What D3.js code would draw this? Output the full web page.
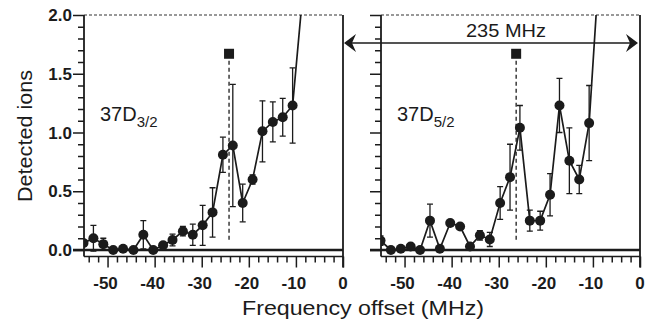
<!DOCTYPE html>
<html>
<head>
<meta charset="utf-8" />
<title>Detected ions vs frequency offset</title>
<style>
  body { margin: 0; background: #fff; }
  svg { font-family: "Liberation Sans", Arial, Helvetica, sans-serif; }
</style>
</head>
<body>
<script src="https://d3js.org/d3.v7.min.js"></script>
<script>
// left panel: 37D3/2
var freqA = [-55.1, -53.0, -50.9, -48.8, -46.7, -44.5, -42.4, -40.3, -38.2, -36.2, -34.0, -31.9,
             -29.8, -27.7, -25.5, -23.4, -21.3, -19.2, -17.1, -14.9, -12.8, -10.7, -8.6];
var ionsA = [0.06, 0.10, 0.05, 0.0, 0.01, 0.0, 0.13, 0.0, 0.04, 0.085, 0.16, 0.13,
             0.21, 0.32, 0.81, 0.89, 0.40, 0.60, 1.01, 1.09, 1.13, 1.23, 2.16];
var errA  = [0, 0.11, 0.05, 0, 0, 0, 0.12, 0, 0, 0.05, 0.04, 0.09,
             0.17, 0.21, 0.15, 0.52, 0.16, 0.04, 0.26, 0.17, 0.16, 0.32, 0];

// right panel: 37D5/2
var freqB = [-55.1, -52.9, -50.8, -48.7, -46.7, -44.6, -42.5, -40.3, -38.2, -36.1, -34.0, -31.9,
             -29.7, -27.6, -25.5, -23.4, -21.2, -19.1, -17.1, -15.0, -12.9, -10.8, -8.6];
var ionsB = [0.08, 0.0, 0.01, 0.03, 0.0, 0.25, 0.01, 0.23, 0.20, 0.03, 0.125, 0.09,
             0.40, 0.62, 1.04, 0.25, 0.25, 0.47, 1.23, 0.76, 0.60, 1.08, 2.45];
var errB  = [0.04, 0, 0, 0, 0, 0.14, 0, 0.02, 0, 0, 0.04, 0.06,
             0.14, 0.28, 0.19, 0.09, 0.08, 0.18, 0.23, 0.28, 0.12, 0.32, 0];

// theory markers (square + dashed line)
var markA = {f: -24.2, top: 1.67, bottom: 0.08};
var markB = {f: -26.3, top: 1.67, bottom: 0.07};

var xTicks = [-50, -40, -30, -20, -10, 0];
var yTicks = [0.0, 0.5, 1.0, 1.5, 2.0];

var width = 660, height = 327;
var ink = "#1b1b1b";

var svg = d3.select("body").append("svg")
    .attr("width", width)
    .attr("height", height);

var y = d3.scaleLinear().domain([0, 2]).range([250, 15]);
var frameBottom = y(0) + 6.5;

var panels = [
  {x: d3.scaleLinear().domain([-55, 0]).range([84, 343]), f: freqA, v: ionsA, e: errA, mark: markA, sub: "3/2", labels: true},
  {x: d3.scaleLinear().domain([-55, 0]).range([381, 640]), f: freqB, v: ionsB, e: errB, mark: markB, sub: "5/2", labels: false}
];

panels.forEach(function(p, i) {
  var x = p.x;
  var x0 = x.range()[0], x1 = x.range()[1];
  var g = svg.append("g");

  // top dashed border
  g.append("line")
    .attr("x1", x0).attr("x2", x1)
    .attr("y1", y(2)).attr("y2", y(2))
    .attr("stroke", "#333").attr("stroke-width", 1.2)
    .attr("stroke-dasharray", "3,2");

  // right border
  g.append("line")
    .attr("x1", x1).attr("x2", x1)
    .attr("y1", y(2)).attr("y2", frameBottom + 11)
    .attr("stroke", ink).attr("stroke-width", 1.8);

  // left axis
  var yAxis = d3.axisLeft(y)
    .tickValues(d3.range(0, 2.001, 0.1))
    .tickSize(0)
    .tickFormat("");
  var ya = g.append("g").attr("transform", "translate(" + x0 + ",0)").call(yAxis);
  ya.select(".domain").remove();
  ya.selectAll(".tick line")
    .attr("x2", function(d) { return Math.abs(d / 0.5 - Math.round(d / 0.5)) < 1e-6 ? -11 : -6; })
    .attr("stroke", ink).attr("stroke-width", 1.5);
  g.append("line")
    .attr("x1", x0).attr("x2", x0)
    .attr("y1", y(2)).attr("y2", frameBottom)
    .attr("stroke", ink).attr("stroke-width", 1.8);

  if (p.labels) {
    g.selectAll(".ylab").data(yTicks).enter().append("text")
      .attr("x", x0 - 12)
      .attr("y", function(d) { return y(d) + 6; })
      .attr("text-anchor", "end")
      .attr("font-size", 17).attr("font-weight", "bold")
      .attr("fill", ink)
      .text(function(d) { return d.toFixed(1); });
  }

  // bottom axis
  var xAxis = d3.axisBottom(x)
    .tickValues(d3.range(-54, 0.001, 2))
    .tickSize(0)
    .tickFormat("");
  var xa = g.append("g").attr("transform", "translate(0," + frameBottom + ")").call(xAxis);
  xa.select(".domain").remove();
  xa.selectAll(".tick line")
    .attr("y2", function(d) { return d % 10 === 0 ? 11 : 6; })
    .attr("stroke", ink).attr("stroke-width", 1.5);
  g.append("line")
    .attr("x1", x0).attr("x2", x1)
    .attr("y1", frameBottom).attr("y2", frameBottom)
    .attr("stroke", ink).attr("stroke-width", 1.5);

  g.selectAll(".xlab").data(xTicks).enter().append("text")
    .attr("x", function(d) { return x(d) - (d < 0 ? 2 : 0); })
    .attr("y", 289)
    .attr("text-anchor", "middle")
    .attr("font-size", 17).attr("font-weight", "bold")
    .attr("fill", ink)
    .text(function(d) { return d; });

  // zero line
  g.append("line")
    .attr("x1", x0 - 11).attr("x2", x1)
    .attr("y1", y(0)).attr("y2", y(0))
    .attr("stroke", ink).attr("stroke-width", 2.4);

  // clipped data region
  svg.append("clipPath").attr("id", "clip" + i)
    .append("rect")
    .attr("x", x0).attr("y", y(2))
    .attr("width", x1 - x0).attr("height", frameBottom - y(2));

  var data = p.f.map(function(f, k) { return {f: f, v: p.v[k], e: p.e[k]}; });
  var dg = g.append("g").attr("clip-path", "url(#clip" + i + ")");

  // theory marker dashed line
  dg.append("line")
    .attr("x1", x(p.mark.f)).attr("x2", x(p.mark.f))
    .attr("y1", y(p.mark.top)).attr("y2", y(p.mark.bottom))
    .attr("stroke", ink).attr("stroke-width", 1.3)
    .attr("stroke-dasharray", "4,3");

  // error bars
  var eb = dg.selectAll(".err").data(data.filter(function(d) { return d.e > 0; }))
    .enter().append("g");
  eb.append("line")
    .attr("x1", function(d) { return x(d.f); }).attr("x2", function(d) { return x(d.f); })
    .attr("y1", function(d) { return y(d.v - d.e); }).attr("y2", function(d) { return y(d.v + d.e); })
    .attr("stroke", ink).attr("stroke-width", 1.3);
  [-1, 1].forEach(function(s) {
    eb.append("line")
      .attr("x1", function(d) { return x(d.f) - 3; }).attr("x2", function(d) { return x(d.f) + 3; })
      .attr("y1", function(d) { return y(d.v + s * d.e); }).attr("y2", function(d) { return y(d.v + s * d.e); })
      .attr("stroke", ink).attr("stroke-width", 1.3);
  });

  // connecting line
  dg.append("path").datum(data)
    .attr("fill", "none").attr("stroke", ink).attr("stroke-width", 1.7)
    .attr("d", d3.line().x(function(d) { return x(d.f); }).y(function(d) { return y(d.v); }));

  dg.selectAll(".pt").data(data).enter().append("circle")
    .attr("cx", function(d) { return x(d.f); })
    .attr("cy", function(d) { return y(d.v); })
    .attr("r", 5)
    .attr("fill", ink);

  // square marker
  g.append("rect")
    .attr("x", x(p.mark.f) - 5).attr("y", y(p.mark.top) - 5)
    .attr("width", 10).attr("height", 10)
    .attr("fill", ink);

  // state label
  var t = g.append("text")
    .attr("x", x0 + 16).attr("y", 121)
    .attr("font-size", 20).attr("fill", ink);
  t.append("tspan").text("37D");
  t.append("tspan").attr("dy", 6).attr("font-size", 15).text(p.sub);
});

// 235 MHz span arrow
var ax0 = panels[0].x(0) + 1, ax1 = panels[1].x(0) - 2, ay = 43;
svg.append("line")
  .attr("x1", ax0 + 6).attr("x2", ax1 - 6)
  .attr("y1", ay).attr("y2", ay)
  .attr("stroke", ink).attr("stroke-width", 1.5);
svg.append("path")
  .attr("d", "M" + ax0 + "," + ay + " L" + (ax0 + 12) + "," + (ay - 9) + " L" + (ax0 + 8) + "," + ay +
             " L" + (ax0 + 12) + "," + (ay + 9) + " Z")
  .attr("fill", ink);
svg.append("path")
  .attr("d", "M" + ax1 + "," + ay + " L" + (ax1 - 12) + "," + (ay - 9) + " L" + (ax1 - 8) + "," + ay +
             " L" + (ax1 - 12) + "," + (ay + 9) + " Z")
  .attr("fill", ink);
svg.append("text")
  .attr("x", 506).attr("y", 37)
  .attr("text-anchor", "middle")
  .attr("font-size", 18).attr("fill", ink)
  .attr("textLength", 80).attr("lengthAdjust", "spacingAndGlyphs")
  .text("235 MHz");

// axis titles
svg.append("text")
  .attr("x", 363).attr("y", 315)
  .attr("text-anchor", "middle")
  .attr("font-size", 20).attr("fill", ink)
  .attr("textLength", 242).attr("lengthAdjust", "spacingAndGlyphs")
  .text("Frequency offset (MHz)");

svg.append("text")
  .attr("transform", "translate(32,136) rotate(-90)")
  .attr("text-anchor", "middle")
  .attr("font-size", 21).attr("fill", ink)
  .attr("textLength", 132).attr("lengthAdjust", "spacingAndGlyphs")
  .text("Detected ions");
</script>
</body>
</html>
